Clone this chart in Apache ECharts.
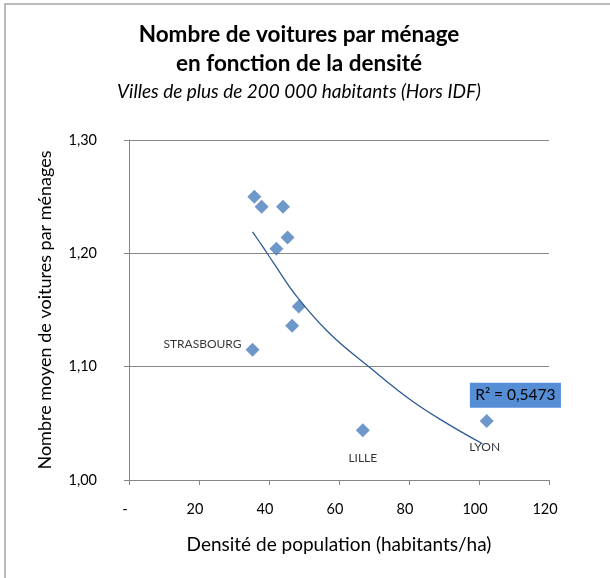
<!DOCTYPE html>
<html>
<head>
<meta charset="utf-8">
<script src="https://cdn.jsdelivr.net/npm/echarts@6/dist/echarts.min.js"></script>
<style>
  html, body { margin: 0; padding: 0; background: #fff; }
  #chart { width: 610px; height: 578px; }
</style>
</head>
<body>
<div id="chart"></div>
<script>
// densité (habitants/ha) et nombre moyen de voitures par ménage
var densite = [35.8, 37.9, 44.0, 45.3, 42.1, 48.5, 46.6, 35.3, 66.8, 102.2]
var voitures = [1.250, 1.241, 1.241, 1.214, 1.204, 1.153, 1.136, 1.115, 1.044, 1.052]
var villes = ['', '', '', '', '', '', '', 'STRASBOURG', 'LILLE', 'LYON']

// courbe de tendance
var tendanceX = [35.3, 38.4, 41.2, 47.9, 57.4, 68.9, 81.2, 90.8, 101.0]
var tendanceY = [1.219, 1.205, 1.192, 1.162, 1.129, 1.099, 1.069, 1.050, 1.032]

var r2Texte = 'R² = 0,5473'
var r2Position = [110.4, 1.0747]

var xTicks = [0, 20, 40, 60, 80, 100, 120]
var yTicks = [1.0, 1.1, 1.2, 1.3]

var font = 'Lato, "Open Sans", sans-serif'

// position des étiquettes des villes
var etiquettes = {
  STRASBOURG: { position: 'left', distance: 4, offset: [0, -6] },
  LILLE: { position: 'bottom', distance: 15 },
  LYON: { position: 'bottom', distance: 13, offset: [-2, 0] }
}

var points = []
for (var i = 0; i < densite.length; i++) {
  var p = { value: [densite[i], voitures[i]], name: villes[i] }
  if (etiquettes[villes[i]]) {
    var e = etiquettes[villes[i]]
    p.label = {
      show: true,
      formatter: '{b}',
      position: e.position,
      distance: e.distance,
      offset: e.offset || [0, 0]
    }
  }
  points.push(p)
}

var tendance = []
for (var j = 0; j < tendanceX.length; j++) {
  tendance.push([tendanceX[j], tendanceY[j]])
}

var chart = echarts.init(document.getElementById('chart'), null, { renderer: 'canvas' })
var option = {
  animation: false,
  graphic: [
    {
      type: 'rect',
      shape: { x: 5, y: 4, width: 620, height: 590 },
      style: { fill: 'none', stroke: '#a6a6a6', lineWidth: 1.5 },
      z: 0
    },
    {
      type: 'text',
      x: 299, y: 35,
      style: {
        text: 'Nombre de voitures par ménage',
        font: 'bold 22.5px ' + font,
        fill: '#000',
        textAlign: 'center',
        textVerticalAlign: 'middle'
      }
    },
    {
      type: 'text',
      x: 299, y: 64,
      style: {
        text: 'en fonction de la densité',
        font: 'bold 22.5px ' + font,
        fill: '#000',
        textAlign: 'center',
        textVerticalAlign: 'middle'
      }
    },
    {
      type: 'text',
      x: 299, y: 92,
      style: {
        text: 'Villes de plus de 200 000 habitants (Hors IDF)',
        font: 'italic 19px ' + font,
        fill: '#000',
        textAlign: 'center',
        textVerticalAlign: 'middle'
      }
    }
  ],
  grid: {
    left: 129,
    right: 61,
    top: 140,
    bottom: 98
  },
  xAxis: {
    type: 'value',
    min: xTicks[0],
    max: xTicks[xTicks.length - 1],
    interval: xTicks[1] - xTicks[0],
    name: 'Densité de population (habitants/ha)',
    nameLocation: 'middle',
    nameGap: 55,
    nameTextStyle: { color: '#000', fontSize: 19, fontFamily: font },
    axisLine: { show: true, lineStyle: { color: '#868686', width: 1 } },
    axisTick: { show: true, inside: false, length: 5, lineStyle: { color: '#868686' } },
    splitLine: { show: false },
    axisLabel: {
      color: '#000',
      fontSize: 14.5,
      fontFamily: font,
      margin: 22,
      padding: [0, 8, 0, 0],
      formatter: function(v) {
        return v === 0 ? '-' : String(v)
      }
    }
  },
  yAxis: {
    type: 'value',
    min: yTicks[0],
    max: yTicks[yTicks.length - 1],
    interval: 0.1,
    name: 'Nombre moyen de voitures par ménages',
    nameLocation: 'middle',
    nameGap: 75,
    nameTextStyle: { color: '#000', fontSize: 18, fontFamily: font },
    axisLine: { show: true, lineStyle: { color: '#868686', width: 1 } },
    axisTick: { show: true, inside: false, length: 5, lineStyle: { color: '#868686' } },
    splitLine: { show: true, lineStyle: { color: '#868686', width: 1 } },
    axisLabel: {
      color: '#000',
      fontSize: 14.5,
      fontFamily: font,
      margin: 32,
      formatter: function(v) {
        return v.toFixed(2).replace('.', ',')
      }
    }
  },
  series: [
    {
      type: 'scatter',
      data: points,
      symbol: 'diamond',
      symbolSize: 14,
      itemStyle: { color: '#4a7ebb' },
      label: {
        show: false,
        color: '#000',
        fontSize: 12,
        fontFamily: font
      },
      z: 3
    },
    {
      type: 'line',
      data: tendance,
      smooth: 0.4,
      showSymbol: false,
      lineStyle: { color: '#2c5a96', width: 1.3 },
      z: 4,
      markPoint: {
        symbol: 'rect',
        symbolSize: [91, 25],
        itemStyle: { color: '#558ed5' },
        label: {
          show: true,
          position: 'inside',
          color: '#000',
          fontSize: 15.5,
          fontFamily: font,
          formatter: r2Texte
        },
        data: [{ coord: r2Position }]
      }
    }
  ]
}
chart.setOption(option)
</script>
</body>
</html>
